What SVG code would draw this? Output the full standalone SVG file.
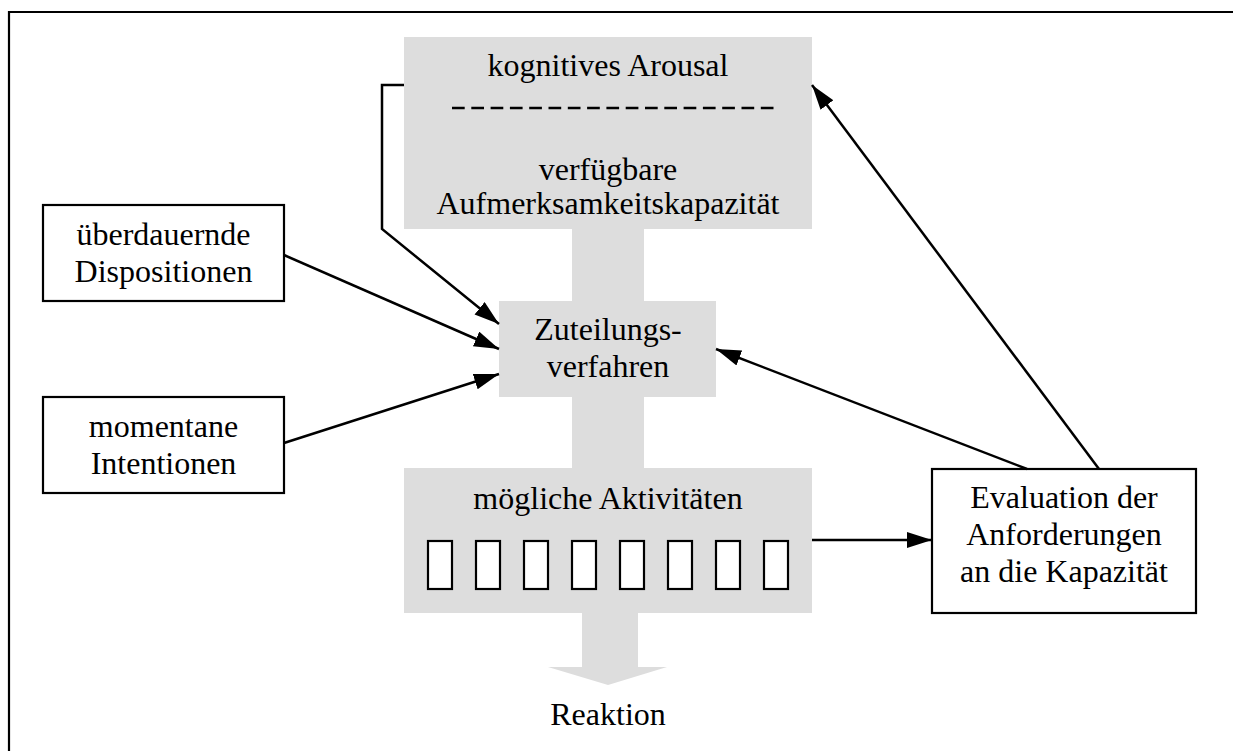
<svg xmlns="http://www.w3.org/2000/svg" width="1233" height="751" viewBox="0 0 1233 751">
<defs>
<style>
.t{font-family:"Liberation Serif","Times New Roman",serif;font-size:32px;fill:#000;text-anchor:middle}
.g{fill:#dddddd;stroke:none}
.b{fill:#fff;stroke:#000;stroke-width:2.2}
.c{fill:none;stroke:#000;stroke-width:2.5}
</style>
<marker id="ah" markerUnits="userSpaceOnUse" markerWidth="28" markerHeight="18" refX="25" refY="8" orient="auto">
<path d="M0,0 L25,8 L0,16 Z" fill="#000"/>
</marker>
</defs>
<rect width="1233" height="751" fill="#fff"/>
<path d="M9,751 V12 H1233" fill="none" stroke="#000" stroke-width="2.2"/>

<g id="stem">
<rect class="g" x="572" y="228" width="72" height="241"/>
</g>

<g id="arousal">
<rect class="g" x="404" y="37" width="408" height="192"/>
<text class="t" x="608" y="76">kognitives Arousal</text>
<line x1="452" y1="108" x2="780" y2="108" stroke="#000" stroke-width="2.5" stroke-dasharray="12.7 6.6"/>
<text class="t" x="608" y="180">verfügbare</text>
<text class="t" x="608" y="214">Aufmerksamkeitskapazität</text>
</g>

<g id="zuteilung">
<rect class="g" x="499" y="301" width="217" height="96"/>
<text class="t" x="608" y="340">Zuteilungs-</text>
<text class="t" x="608" y="377">verfahren</text>
</g>

<g id="aktivitaeten">
<rect class="g" x="404" y="468" width="408" height="145"/>
<polygon class="g" points="582,612 638,612 638,667 667,667 608,685 548,667 582,667"/>
<text class="t" x="608" y="509">mögliche Aktivitäten</text>
<rect class="b" x="428" y="541" width="24" height="48"/>
<rect class="b" x="476" y="541" width="24" height="48"/>
<rect class="b" x="524" y="541" width="24" height="48"/>
<rect class="b" x="572" y="541" width="24" height="48"/>
<rect class="b" x="620" y="541" width="24" height="48"/>
<rect class="b" x="668" y="541" width="24" height="48"/>
<rect class="b" x="716" y="541" width="24" height="48"/>
<rect class="b" x="764" y="541" width="24" height="48"/>
</g>

<g id="reaktion">
<text class="t" x="608" y="725">Reaktion</text>
</g>

<g id="dispositionen">
<rect class="b" x="43" y="205" width="241" height="96"/>
<text class="t" x="163.5" y="245">überdauernde</text>
<text class="t" x="163.5" y="282">Dispositionen</text>
</g>

<g id="intentionen">
<rect class="b" x="43" y="397" width="241" height="96"/>
<text class="t" x="163.5" y="437">momentane</text>
<text class="t" x="163.5" y="474">Intentionen</text>
</g>

<g id="evaluation">
<rect class="b" x="932" y="469" width="264" height="144"/>
<text class="t" x="1064" y="508">Evaluation der</text>
<text class="t" x="1064" y="545">Anforderungen</text>
<text class="t" x="1064" y="582">an die Kapazität</text>
</g>

<g id="connectors">
<path class="c" d="M404,85 H382 V229 L499,324" marker-end="url(#ah)"/>
<path class="c" d="M284,255 L499,349" marker-end="url(#ah)"/>
<path class="c" d="M284,443 L499,374" marker-end="url(#ah)"/>
<path class="c" d="M1027,469 L716,349" marker-end="url(#ah)"/>
<path class="c" d="M1099,469 L812,85" marker-end="url(#ah)"/>
<path class="c" d="M812,540 L932,540" marker-end="url(#ah)"/>
</g>
</svg>
